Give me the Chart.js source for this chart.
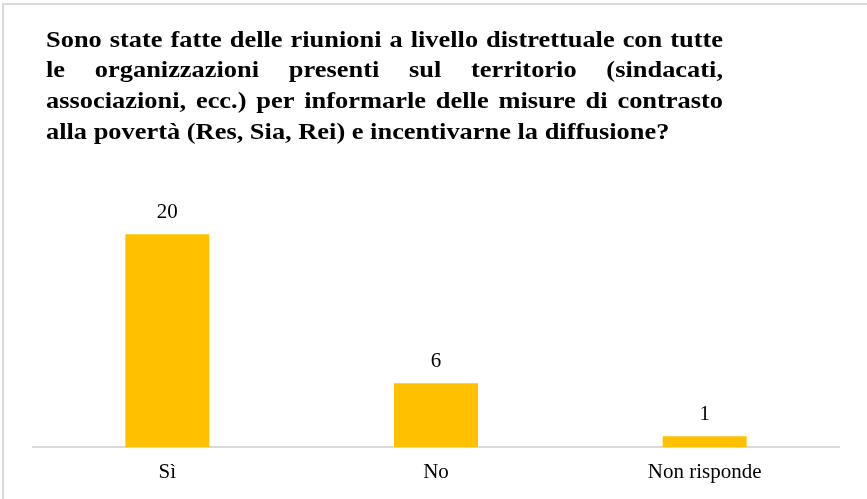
<!DOCTYPE html>
<html>
<head>
<meta charset="utf-8">
<script src="https://cdn.jsdelivr.net/npm/chart.js@4"></script>
<style>
  html, body { margin: 0; padding: 0; background: #fff; }
  #wrap { width: 867px; height: 499px; position: relative; }
</style>
</head>
<body>
<div id="wrap"><canvas id="chart" width="867" height="499"></canvas></div>
<script>
const categories = ['Sì', 'No', 'Non risponde'];
const values = [20, 6, 1];
const titleLines = [
  'Sono state fatte delle riunioni a livello distrettuale con tutte',
  'le organizzazioni presenti sul territorio (sindacati,',
  'associazioni, ecc.) per informarle delle misure di contrasto',
  'alla povertà (Res, Sia, Rei) e incentivarne la diffusione?'
];

const SERIF = '"Liberation Serif", "Times New Roman", serif';

// Frame around the chart (top and left edges visible)
const framePlugin = {
  id: 'frame',
  beforeDraw(chart) {
    const ctx = chart.ctx;
    ctx.save();
    ctx.fillStyle = '#ffffff';
    ctx.fillRect(0, 0, chart.width, chart.height);
    ctx.strokeStyle = '#d9d9d9';
    ctx.lineWidth = 2;
    ctx.beginPath();
    ctx.moveTo(3, chart.height + 5);
    ctx.lineTo(3, 4);
    ctx.lineTo(chart.width + 5, 4);
    ctx.stroke();
    ctx.restore();
  }
};

// Justified multi-line title (slightly widened glyphs)
const justifiedTitle = {
  id: 'justifiedTitle',
  afterDraw(chart, args, opts) {
    const ctx = chart.ctx;
    const sx = opts.scaleX;
    ctx.save();
    ctx.font = opts.font;
    ctx.fillStyle = '#000';
    ctx.textBaseline = 'alphabetic';
    ctx.textAlign = 'left';
    const avail = (opts.right - opts.left) / sx;
    opts.lines.forEach((line, i) => {
      const y = opts.top + i * opts.lineHeight;
      ctx.save();
      ctx.translate(opts.left, y);
      ctx.scale(sx, 1);
      const words = line.split(' ');
      const last = i === opts.lines.length - 1;
      if (last || words.length < 2) {
        ctx.fillText(line, 0, 0);
      } else {
        const wordsW = words.reduce((s, w) => s + ctx.measureText(w).width, 0);
        const gap = (avail - wordsW) / (words.length - 1);
        let x = 0;
        words.forEach(w => {
          ctx.fillText(w, x, 0);
          x += ctx.measureText(w).width + gap;
        });
      }
      ctx.restore();
    });
    ctx.restore();
  }
};

// Value labels above each bar
const valueLabels = {
  id: 'valueLabels',
  afterDatasetsDraw(chart) {
    const ctx = chart.ctx;
    const meta = chart.getDatasetMeta(0);
    ctx.save();
    ctx.font = '21px ' + SERIF;
    ctx.fillStyle = '#000';
    ctx.textAlign = 'center';
    ctx.textBaseline = 'middle';
    meta.data.forEach((bar, i) => {
      ctx.fillText(String(values[i]), bar.x, bar.y - 22);
    });
    ctx.restore();
  }
};

new Chart(document.getElementById('chart'), {
  type: 'bar',
  data: {
    labels: categories,
    datasets: [{
      data: values,
      backgroundColor: '#FFC000',
      borderWidth: 0,
      categoryPercentage: 1,
      barPercentage: 0.3126
    }]
  },
  options: {
    responsive: false,
    animation: false,
    layout: { padding: { left: 33, right: 28, top: 181, bottom: 0 } },
    plugins: {
      legend: { display: false },
      title: { display: false },
      tooltip: { enabled: false },
      justifiedTitle: {
        lines: titleLines,
        font: 'bold 23px ' + SERIF,
        scaleX: 1.148,
        left: 46,
        right: 723,
        top: 46.5,
        lineHeight: 30.8
      }
    },
    scales: {
      x: {
        grid: { display: false, drawTicks: false },
        border: { display: true, color: '#d9d9d9', width: 2 },
        ticks: { color: '#000', font: { family: SERIF, size: 21 }, padding: 13 },
        afterFit(scale) { scale.height = 52; }
      },
      y: {
        display: false,
        min: 0,
        max: 25
      }
    }
  },
  plugins: [framePlugin, justifiedTitle, valueLabels]
});
</script>
</body>
</html>
